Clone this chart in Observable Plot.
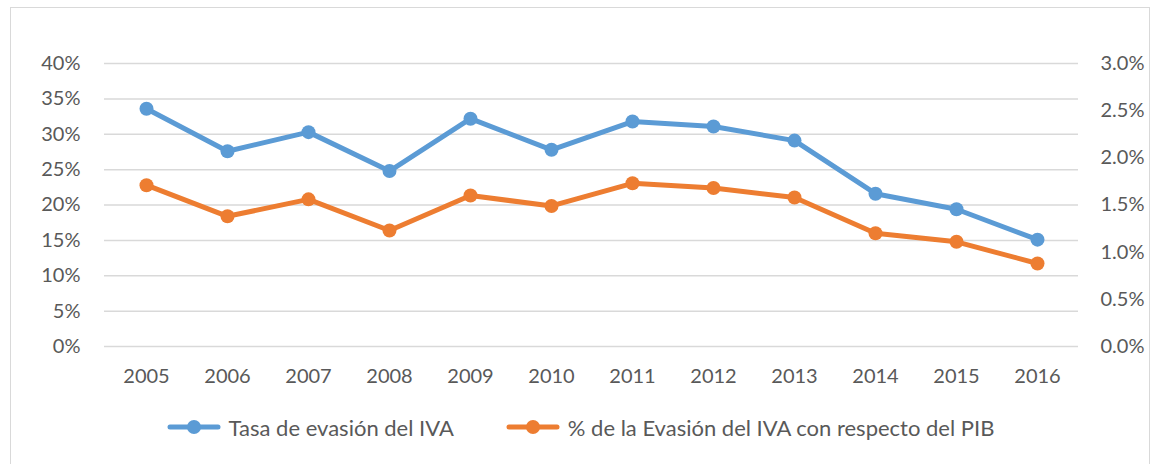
<!DOCTYPE html>
<html>
<head>
<meta charset="utf-8">
<script src="https://cdn.jsdelivr.net/npm/d3@7"></script>
<script src="https://cdn.jsdelivr.net/npm/@observablehq/plot@0.6"></script>
<style>
  body { margin: 0; background: #fff; font-family: Lato, "Open Sans", sans-serif; }
  #frame { position: absolute; left: 10px; top: 7px; width: 1140px; height: 470px; border: 1.5px solid #d9d9d9; box-sizing: border-box; }
  #chart { position: absolute; left: 0; top: 0; }
  #legend { position: absolute; left: 0; top: 413px; width: 1153px; display: flex; justify-content: center; gap: 52px; color: #595959; font-size: 22px; padding-left: 8px; box-sizing: border-box; }
  .item { display: flex; align-items: center; gap: 8px; }
</style>
</head>
<body>
<div id="frame"></div>
<div id="chart"></div>
<div id="legend"></div>
<script>
const years = ["2005","2006","2007","2008","2009","2010","2011","2012","2013","2014","2015","2016"];
const tasaEvasion = [33.6, 27.6, 30.3, 24.8, 32.2, 27.8, 31.8, 31.1, 29.1, 21.6, 19.4, 15.1];   // % (left axis)
const evasionPIB = [1.71, 1.38, 1.56, 1.23, 1.60, 1.49, 1.73, 1.68, 1.58, 1.20, 1.11, 0.88];    // % of GDP (right axis)
const leftTicks = [0, 5, 10, 15, 20, 25, 30, 35, 40];
const rightTicks = [0, 0.5, 1.0, 1.5, 2.0, 2.5, 3.0];
const rightMax = 3.0, leftMax = 40;
const seriesNames = ["Tasa de evasión del IVA", "% de la Evasión del IVA con respecto del PIB"];
const colors = ["#5B9BD5", "#ED7D31"];

const ratio = leftMax / rightMax;
const blue = years.map((y, i) => ({year: y, v: tasaEvasion[i]}));
const orange = years.map((y, i) => ({year: y, v: evasionPIB[i] * ratio}));

const textColor = "#595959";
const chart = Plot.plot({
  width: 1153,
  height: 395,
  marginLeft: 104,
  marginRight: 75,
  marginTop: 63,
  marginBottom: 49,
  style: {fontFamily: "Lato, 'Open Sans', sans-serif", fontSize: "20px", color: textColor, background: "transparent"},
  x: {type: "point", domain: years, padding: 0.5},
  y: {domain: [0, leftMax]},
  marks: [
    Plot.gridY(leftTicks, {stroke: "#d9d9d9", strokeOpacity: 1, strokeWidth: 1.5}),
    Plot.axisY({ticks: leftTicks, anchor: "left", tickSize: 0, tickPadding: 24, tickFormat: d => d + "%", label: null, fill: textColor}),
    Plot.axisY({ticks: rightTicks.map(d => d * ratio), anchor: "right", tickSize: 0, tickPadding: 22, tickFormat: d => (d / ratio).toFixed(1) + "%", label: null, fill: textColor, textAnchor: "start"}),
    Plot.axisX({tickSize: 0, tickPadding: 22, label: null, fill: textColor}),
    Plot.line(blue, {x: "year", y: "v", stroke: colors[0], strokeWidth: 5}),
    Plot.dot(blue, {x: "year", y: "v", r: 7, fill: colors[0]}),
    Plot.line(orange, {x: "year", y: "v", stroke: colors[1], strokeWidth: 5}),
    Plot.dot(orange, {x: "year", y: "v", r: 7, fill: colors[1]})
  ]
});
document.getElementById("chart").appendChild(chart);

const legend = document.getElementById("legend");
seriesNames.forEach((name, i) => {
  const item = document.createElement("div");
  item.className = "item";
  item.innerHTML = `<svg width="54" height="28"><line x1="3" y1="14" x2="51" y2="14" stroke="${colors[i]}" stroke-width="5" stroke-linecap="round"/><circle cx="27" cy="14" r="7" fill="${colors[i]}"/></svg><span>${name}</span>`;
  legend.appendChild(item);
});
</script>
</body>
</html>
